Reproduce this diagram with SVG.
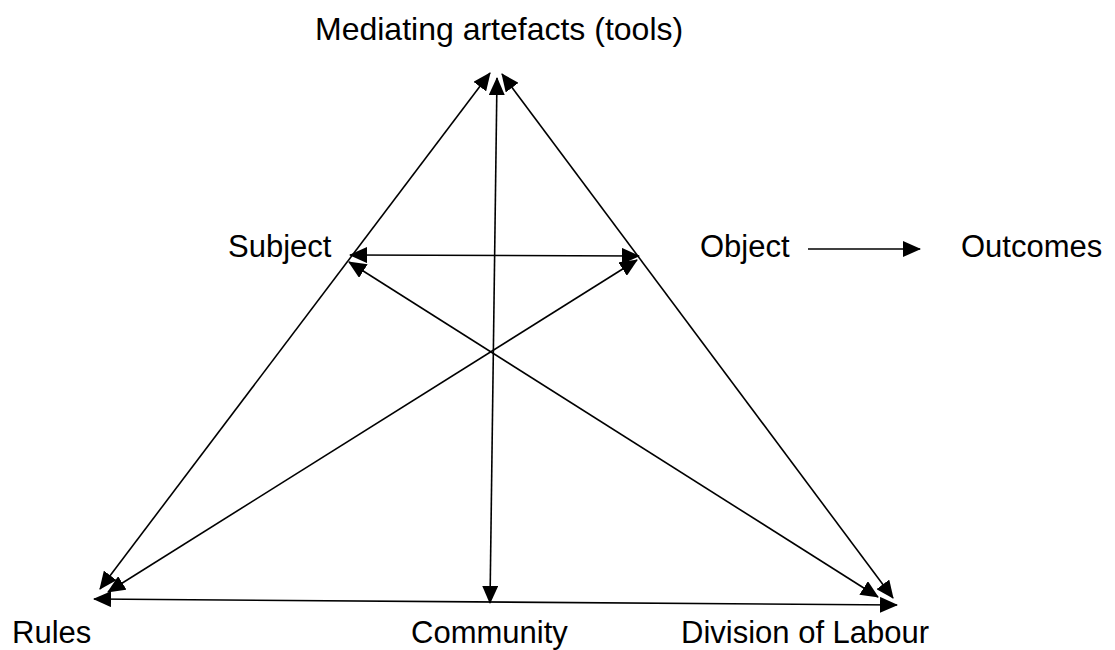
<svg xmlns="http://www.w3.org/2000/svg" width="1115" height="650" viewBox="0 0 1115 650">
<style>
.lbl{font-family:"Liberation Sans",Arial,sans-serif;font-size:31px;fill:#000}
.ln{stroke:#000;stroke-width:1.6;fill:none}
</style>
<defs>
<marker id="ah" markerUnits="userSpaceOnUse" markerWidth="18" markerHeight="16" viewBox="0 0 18 16" refX="17" refY="8" orient="auto-start-reverse">
<path d="M0,0 L18,8 L0,16 z" fill="#000"/>
</marker>
</defs>
<rect width="1115" height="650" fill="#fff"/>
<g id="connectors">
<line class="ln" x1="100" y1="589" x2="490" y2="73" marker-start="url(#ah)" marker-end="url(#ah)"/>
<line class="ln" x1="497" y1="78" x2="490" y2="603" marker-start="url(#ah)" marker-end="url(#ah)"/>
<line class="ln" x1="502" y1="74" x2="893" y2="598" marker-start="url(#ah)" marker-end="url(#ah)"/>
<line class="ln" x1="350" y1="255" x2="639" y2="256" marker-start="url(#ah)" marker-end="url(#ah)"/>
<line class="ln" x1="349" y1="262" x2="878" y2="597" marker-start="url(#ah)" marker-end="url(#ah)"/>
<line class="ln" x1="637" y1="260" x2="108" y2="592" marker-start="url(#ah)" marker-end="url(#ah)"/>
<line class="ln" x1="94" y1="599" x2="897" y2="605" marker-start="url(#ah)" marker-end="url(#ah)"/>
<line class="ln" x1="808" y1="249" x2="920" y2="249" marker-end="url(#ah)"/>
</g>
<g id="mediating"><text class="lbl" x="315" y="40" style="font-size:32px">Mediating artefacts (tools)</text></g>
<g id="subject"><text class="lbl" x="228" y="257">Subject</text></g>
<g id="object"><text class="lbl" x="700" y="257">Object</text></g>
<g id="outcomes"><text class="lbl" x="961" y="257">Outcomes</text></g>
<g id="rules"><text class="lbl" x="12" y="643">Rules</text></g>
<g id="community"><text class="lbl" x="411" y="643">Community</text></g>
<g id="division"><text class="lbl" x="681" y="643">Division of Labour</text></g>
</svg>
